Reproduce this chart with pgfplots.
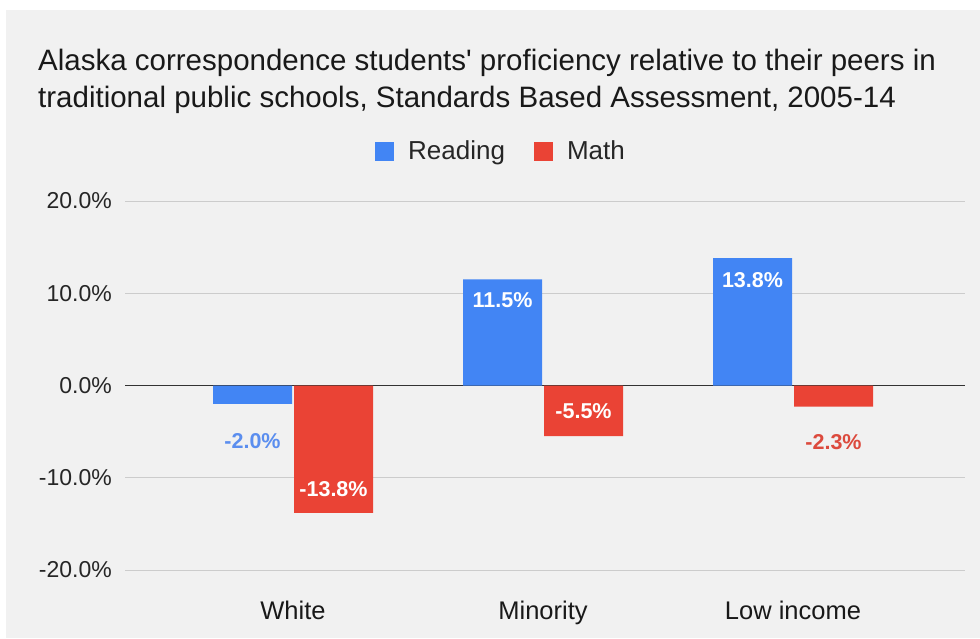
\documentclass[border=0pt]{standalone}
\usepackage{fontspec}
\setmainfont{Liberation Sans}
\usepackage{pgfplots}
\usepackage{pgfplotstable}
\pgfplotsset{compat=1.18}
\definecolor{bg}{HTML}{F1F1F1}
\definecolor{cblue}{HTML}{4285F4}
\definecolor{cred}{HTML}{EA4335}
\definecolor{lblue}{HTML}{5B8EEF}
\definecolor{lred}{HTML}{DC4A3D}
\definecolor{gridc}{HTML}{CCCCCC}
\definecolor{zeroc}{HTML}{333333}

\pgfplotstableread{
x y dy c
-0.162 -2.0 -37 1
0.838 11.5 -21 0
1.838 13.8 -22 0
}\reading
\pgfplotstableread{
x y dy c
0.162 -13.8 24 0
1.162 -5.5 25 0
2.162 -2.3 -35 1
}\mathdata

\begin{document}
\begin{tikzpicture}
\useasboundingbox (0pt,0pt) rectangle (980pt,638pt);
\fill[white] (0pt,0pt) rectangle (980pt,638pt);
\fill[bg] (6pt,0pt) rectangle (980pt,628pt);
\node[anchor=base west, inner sep=0, font=\fontsize{29.5}{34}\selectfont, text=black!90] at (38pt,567pt) {Alaska correspondence students\textquotesingle{} proficiency relative to their peers in};
\node[anchor=base west, inner sep=0, font=\fontsize{29.5}{34}\selectfont, text=black!90] at (38pt,530pt) {traditional public schools, Standards Based Assessment, 2005-14};
\begin{axis}[
  at={(125pt,68pt)}, anchor=south west, scale only axis,
  width=840pt, height=369pt,
  xmin=-0.672, xmax=2.688, ymin=-20, ymax=20,
  axis line style={draw=none}, tick style={draw=none},
  ymajorgrids, grid style={gridc, line width=0.8pt},
  ytick={-20,-10,0,10,20},
  yticklabels={-20.0\%,-10.0\%,0.0\%,10.0\%,20.0\%},
  yticklabel style={font=\fontsize{23}{27}\selectfont, text=black!85, inner sep=0pt, anchor=east, xshift=-13pt},
  extra y ticks={0}, extra y tick labels={},
  extra y tick style={grid style={zeroc, line width=1pt}},
  xtick={0,1,2}, xticklabels={White,Minority,Low income},
  xticklabel style={font=\fontsize{25.5}{30}\selectfont, text=black!90, anchor=base, yshift=-45pt},
  ybar, bar width=0.316, bar shift=0pt,
  /pgf/number format/assume math mode=true,
  nodes near coords={\pgfmathprintnumber[fixed,fixed zerofill,precision=1]{\pgfplotspointmeta}\%},
  point meta=y,
  visualization depends on={\thisrow{dy} \as \dy},
  visualization depends on={\thisrow{c} \as \lc},
  every node near coord/.append style={anchor=center, yshift=\dy pt, font=\fontsize{21.5}{25}\selectfont\bfseries},
  legend style={at={(axis description cs:0.4464,1.1355)}, anchor=center, draw=none, fill=none, legend columns=2,
    nodes={inner sep=0pt},
    font=\fontsize{26}{30}\selectfont, text=black!85,
    /tikz/every odd column/.append style={column sep=14pt},
    /tikz/every even column/.append style={column sep=29pt}},
  legend image code/.code={\fill[#1] (0pt,-9.5pt) rectangle (19pt,9.5pt);},
]
\addplot[draw=none, fill=cblue,
  every node near coord/.append style={/utils/exec={\ifdim\lc pt>0.5pt\def\mycol{lblue}\else\def\mycol{white}\fi}, text=\mycol}]
  table[x=x, y=y] {\reading};
\addlegendentry{Reading}
\addplot[draw=none, fill=cred,
  every node near coord/.append style={/utils/exec={\ifdim\lc pt>0.5pt\def\mycol{lred}\else\def\mycol{white}\fi}, text=\mycol}]
  table[x=x, y=y] {\mathdata};
\addlegendentry{Math}
\end{axis}
\end{tikzpicture}
\end{document}
